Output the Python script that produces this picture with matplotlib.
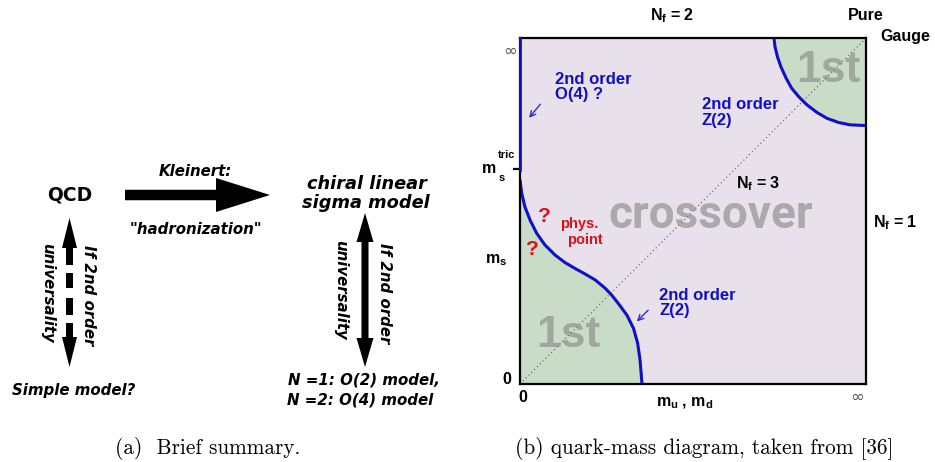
import matplotlib.pyplot as plt
from matplotlib.patches import FancyArrow, Rectangle

plt.rcParams['mathtext.fontset'] = 'custom'
plt.rcParams['mathtext.rm'] = 'Liberation Sans:bold'
plt.rcParams['mathtext.it'] = 'Liberation Sans:bold'
plt.rcParams['mathtext.bf'] = 'Liberation Sans:bold'

# Z(2) line bounding the light-quark first-order region (m_ud, m_s in box units)
low_x = [0.000, 0.005, 0.014, 0.029, 0.048, 0.072, 0.101, 0.130, 0.159, 0.188,
         0.217, 0.246, 0.265, 0.284, 0.309, 0.328, 0.340, 0.347, 0.352, 0.353]
low_y = [0.590, 0.551, 0.513, 0.474, 0.436, 0.402, 0.373, 0.351, 0.334, 0.318,
         0.301, 0.277, 0.257, 0.233, 0.199, 0.161, 0.118, 0.069, 0.007, 0.0]

# Z(2) line bounding the heavy-quark (pure gauge) first-order region
up_x = [0.734, 0.737, 0.744, 0.754, 0.769, 0.785, 0.805, 0.829, 0.858, 0.887, 0.920, 0.954, 1.0]
up_y = [1.0, 0.975, 0.946, 0.917, 0.884, 0.855, 0.831, 0.807, 0.785, 0.768, 0.756, 0.749, 0.747]

# O(4) line along m_ud = 0, from the tricritical strange mass up to infinity
o4_y = [0.618, 1.0]
ms_tric = 0.621
ms_phys = 0.353

y_labels = ['0', '$m_s$']
x_labels = ['0', '\u221e']

LAV = '#e8e1eb'
GREEN = '#c9dcc8'
BLUE = '#1010c8'
RED = '#e01018'
BIG = '#858585'
HELV = ['Liberation Sans', 'DejaVu Sans']

fig = plt.figure(figsize=(9.35, 4.62), dpi=100)

# overlay in pixel units for the left sketch and the captions
ov = fig.add_axes([0, 0, 1, 1])
ov.set_xlim(0, 935)
ov.set_ylim(462, 0)
ov.axis('off')

lab = dict(fontweight='bold', fontstyle='italic', ha='center', va='center', fontsize=10.8)
ov.text(70, 195, 'QCD', fontweight='bold', fontsize=13.5, ha='center', va='center')
ov.add_patch(FancyArrow(125, 195, 145, 0, width=10.5, head_width=34, head_length=54,
                        length_includes_head=True, color='black', lw=0))
ov.text(195, 172, 'Kleinert:', **lab)
ov.text(196, 229, '"hadronization"', **lab)
ov.text(367, 189, 'chiral linear', fontweight='bold', fontstyle='italic', fontsize=12.8,
        ha='center', va='baseline')
ov.text(366, 208, 'sigma model', fontweight='bold', fontstyle='italic', fontsize=12.8,
        ha='center', va='baseline')

# solid double arrow under the sigma model
for tip in (213, 367):
    ov.add_patch(FancyArrow(365, 290, 0, tip - 290, width=7, head_width=17, head_length=29,
                            length_includes_head=True, color='black', lw=0))
ov.text(384, 293, 'If 2nd order', rotation=-90, **lab)
ov.text(341, 290, 'universality', rotation=-90, **lab)

# dashed double arrow under QCD
for tip, base in ((218, 265), (367, 323)):
    ov.add_patch(FancyArrow(69.5, base, 0, tip - base, width=7, head_width=15, head_length=30,
                            length_includes_head=True, color='black', lw=0))
for y0, y1 in ((273, 288), (298, 315)):
    ov.add_patch(Rectangle((66, y0), 7, y1 - y0, color='black', lw=0))
ov.text(88, 295, 'If 2nd order', rotation=-90, **lab)
ov.text(48, 293, 'universality', rotation=-90, **lab)

ov.text(74, 390, 'Simple model?', **lab)
ov.text(288, 380, 'N =1: O(2) model,', **dict(lab, ha='left'))
ov.text(287, 400, 'N =2: O(4) model', **dict(lab, ha='left'))

cap = dict(family='cmr10', fontsize=15.3, ha='center', va='center')
ov.text(208, 448, '(a)  Brief summary.', **cap)
ov.text(704, 448, '(b) quark-mass diagram, taken from [36]', **cap)

# quark-mass diagram
ax = fig.add_axes([520 / 935, 78 / 462, 346 / 935, 346 / 462])
ax.set_xlim(0, 1)
ax.set_ylim(0, 1)
ax.set_facecolor(LAV)
for s in ax.spines.values():
    s.set_linewidth(1.6)
ax.set_xticks([])
ax.set_yticks([ms_tric])
ax.set_yticklabels([''])
ax.tick_params(axis='y', length=5, width=1.6, direction='out')

ax.fill(low_x + [0], low_y + [0], color=GREEN, lw=0)
ax.fill(up_x + [1], up_y + [1], color=GREEN, lw=0)
ax.plot([0, 1], [0, 1], color='#707070', lw=0.9, ls=(0, (1, 2.2)))
ax.plot(low_x, low_y, color=BLUE, lw=2.2, solid_capstyle='butt')
ax.plot(up_x, up_y, color=BLUE, lw=2.2, solid_capstyle='butt')
ax.plot([0, 0], o4_y, color=BLUE, lw=2, clip_on=False, zorder=5)

big = dict(fontweight='bold', color=BIG, alpha=0.6, ha='center')
ax.text(0.551, 0.451, 'crossover', family=['Roboto', 'Liberation Sans'], fontsize=33,
        va='baseline', **big)
ax.text(0.890, 0.905, '1st', family=HELV, fontsize=32, va='center', **big)
ax.text(0.139, 0.139, '1st', family=HELV, fontsize=32, va='center', **big)

blue = dict(family=HELV, fontweight='bold', fontsize=12, color=BLUE, ha='left',
            va='center', linespacing=1.05)
ax.text(0.101, 0.858, '2nd order\nO(4) ?', **blue)
ax.text(0.526, 0.785, '2nd order\nZ(2)', **blue)
ax.text(0.402, 0.234, '2nd order\nZ(2)', **blue)
arr = dict(arrowstyle='->', color='#3030c0', lw=1, mutation_scale=10)
ax.annotate('', xy=(0.021, 0.763), xytext=(0.064, 0.815), arrowprops=arr)
ax.annotate('', xy=(0.332, 0.175), xytext=(0.376, 0.219), arrowprops=arr)

red = dict(family=HELV, fontweight='bold', color=RED, ha='center', va='center')
ax.text(0.072, 0.485, '?', fontsize=15, **red)
ax.text(0.035, 0.388, '?', fontsize=15, **red)
ax.text(0.171, 0.462, 'phys.', fontsize=10.5, **red)
ax.text(0.188, 0.416, 'point', fontsize=10.5, **red)

blk = dict(family=HELV, fontweight='bold', fontsize=11.5, ha='center', va='center',
           clip_on=False)
ax.text(0.439, 1.066, '$N_f$ = 2', **blk)
ax.text(0.688, 0.578, '$N_f$ = 3', **blk)
ax.text(1.084, 0.465, '$N_f$ = 1', **blk)
ax.text(1.0, 1.064, 'Pure', **blk)
ax.text(1.113, 1.003, 'Gauge', **blk)
ax.text(0.477, -0.055, '$m_u$ , $m_d$', **blk)

ax.text(-0.038, 0.012, y_labels[0], **blk)
ax.text(-0.069, 0.358, y_labels[1], **blk)
ax.text(0.009, -0.038, x_labels[0], **blk)
ax.text(0.974, -0.038, x_labels[1], fontsize=12, color='#555555', ha='center', va='center')
ax.text(-0.029, 0.962, '\u221e', fontsize=12, color='#555555', ha='center', va='center')
ax.text(-0.090, ms_tric + 0.003, 'm', **blk)
ax.text(-0.040, 0.662, 'tric', **dict(blk, fontsize=8))
ax.text(-0.052, 0.595, 's', **dict(blk, fontsize=8))

fig.savefig('out.png', dpi=100)
